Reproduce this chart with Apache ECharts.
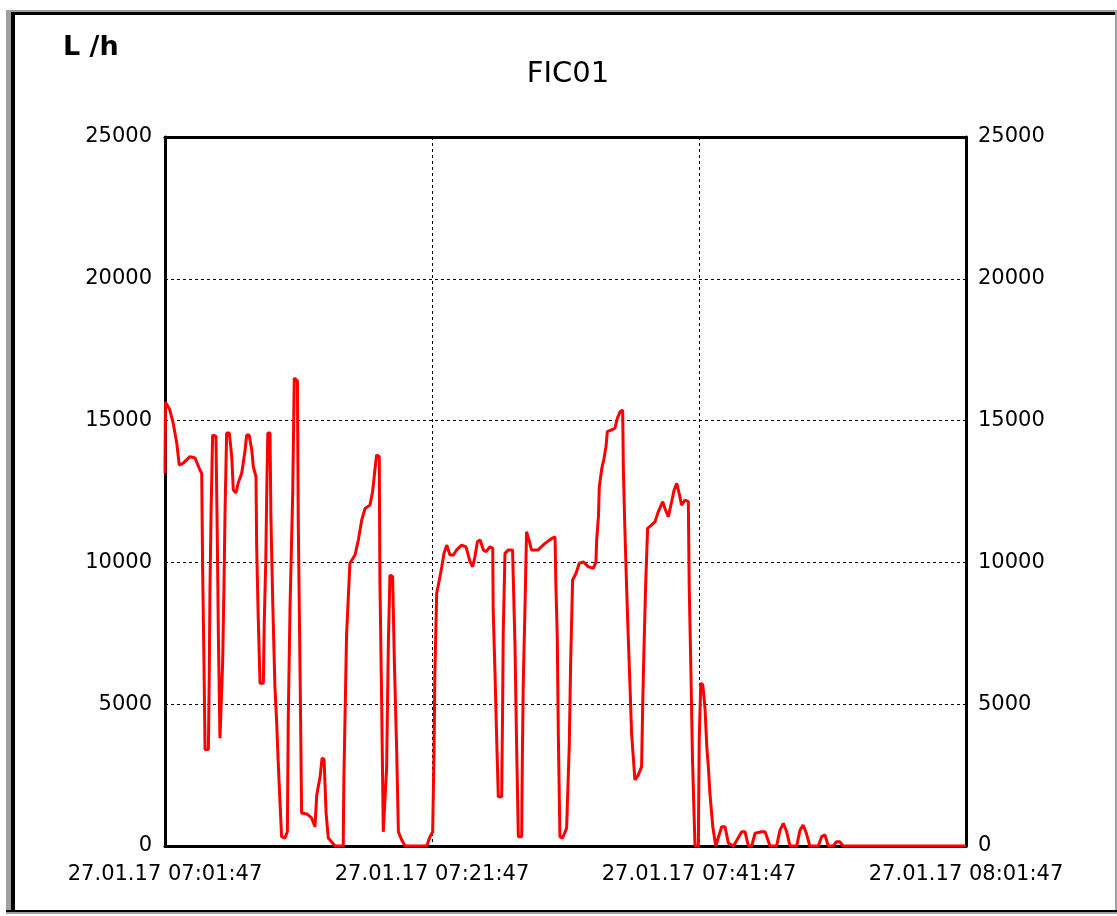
<!DOCTYPE html>
<html>
<head>
<meta charset="utf-8">
<script src="https://cdn.jsdelivr.net/npm/echarts@6/dist/echarts.min.js"></script>
<style>
  html, body { margin: 0; padding: 0; background: #ffffff; }
  #chart { width: 1117px; height: 916px; }
</style>
</head>
<body>
<div id="chart"></div>
<script>
// ---- data ----
const chartTitle = 'FIC01';
const unitLabel = 'L /h';
const startDate = '27.01.17';
const startClock = [7, 1, 47];           // 07:01:47
const xTickSeconds = [0, 1200, 2400, 3600];
const yTicks = [0, 5000, 10000, 15000, 20000, 25000];

// seconds after 07:01:47
const timeSec = [
  0, 2, 9, 22, 37, 53, 64, 82, 112, 135, 157, 165, 169, 175, 180, 195, 199, 202, 207, 214,
  229, 235, 240, 247, 255, 259, 265, 270, 277, 289, 300, 307, 319, 329, 345, 360, 367, 378, 390, 397,
  409, 412, 419, 427, 442, 446, 453, 457, 462, 472, 476, 484, 494, 502, 509, 517, 524, 539, 550, 554,
  562, 574, 581, 595, 599, 607, 614, 637, 659, 674, 682, 697, 706, 715, 724, 734, 754, 764, 801, 804,
  816, 831, 854, 869, 884, 899, 921, 933, 944, 951, 963, 966, 974, 981, 989, 996, 1004, 1011, 1023, 1031,
  1041, 1049, 1064, 1079, 1176, 1191, 1203, 1209, 1213, 1221, 1233, 1244, 1254, 1266, 1281, 1296, 1311, 1333, 1353, 1371,
  1383, 1393, 1404, 1416, 1431, 1443, 1461, 1473, 1475, 1483, 1490, 1498, 1513, 1517, 1520, 1528, 1543, 1562, 1573, 1580,
  1588, 1603, 1606, 1610, 1618, 1625, 1632, 1640, 1647, 1677, 1708, 1738, 1753, 1757, 1763, 1768, 1775, 1787, 1805, 1813,
  1817, 1823, 1832, 1847, 1862, 1880, 1902, 1925, 1937, 1940, 1948, 1952, 1963, 1973, 1982, 1988, 2007, 2022, 2033, 2045,
  2057, 2060, 2067, 2075, 2082, 2090, 2097, 2112, 2127, 2142, 2147, 2153, 2160, 2169, 2187, 2202, 2217, 2237, 2247, 2262,
  2277, 2288, 2300, 2311, 2322, 2337, 2352, 2356, 2364, 2371, 2382, 2397, 2401, 2408, 2417, 2427, 2435, 2442, 2449, 2462,
  2475, 2502, 2517, 2532, 2555, 2592, 2607, 2622, 2637, 2652, 2682, 2697, 2719, 2749, 2764, 2779, 2794, 2809, 2839, 2854,
  2868, 2883, 2898, 2936, 2951, 2966, 2981, 3003, 3018, 3033, 3048, 3600
];
const flowLh = [
  13150, 15650, 15650, 15370, 14900, 14200, 13430, 13500, 13730, 13680, 13260, 13140, 9850, 6560, 3400, 3400, 6100, 8920, 11740, 14490,
  14450, 10900, 7380, 3800, 3800, 6450, 9140, 11850, 14560, 14560, 13730, 12550, 12450, 12800, 13150, 13960, 14490, 14490, 13960, 13370,
  13020, 10550, 8080, 5740, 5740, 7860, 10080, 12320, 14560, 14560, 11610, 8670, 5620, 4340, 2920, 1510, 330, 280, 500, 4510,
  8440, 12450, 16500, 16400, 11390, 6200, 1160, 1130, 990, 680, 1800, 2440, 3100, 3050, 1160, 280, 100, 0, 0, 2400,
  7440, 9970, 10260, 10790, 11490, 11900, 12020, 12490, 13310, 13790, 13730, 9320, 4910, 500, 500, 2740, 7200, 9550, 9500, 6450,
  3440, 500, 210, 0, 0, 330, 500, 3270, 6090, 8910, 9380, 9850, 10320, 10610, 10260, 10260, 10440, 10610, 10550, 10020,
  9850, 10200, 10730, 10790, 10440, 10380, 10550, 10500, 8320, 6150, 3970, 1740, 1740, 4560, 7440, 10320, 10440, 10440, 7090, 3680,
  330, 330, 3030, 5680, 8440, 11080, 11140, 10670, 10440, 10440, 10670, 10840, 10900, 9140, 7380, 3800, 330, 280, 630, 680,
  3560, 6440, 9380, 9610, 9970, 10020, 9850, 9790, 10020, 10790, 11610, 12670, 13310, 13660, 14080, 14610, 14670, 14730, 15080, 15310,
  15370, 13310, 11140, 9030, 7380, 5620, 3970, 2330, 2500, 2800, 4970, 7030, 9140, 11200, 11320, 11430, 11790, 12140, 11900, 11610,
  12140, 12550, 12790, 12430, 12020, 12200, 12140, 9140, 6030, 2970, 0, 0, 3740, 5740, 5680, 4860, 3500, 2800, 1860, 680,
  0, 680, 680, 100, 0, 500, 500, 0, 0, 450, 500, 500, 0, 0, 560, 800, 500, 0, 0, 560,
  740, 440, 0, 0, 330, 390, 0, 0, 150, 150, 0, 0
];

// ---- chart ----
const pad = n => String(n).padStart(2, '0');
function fmtTime(sec) {
  const base = startClock[0] * 3600 + startClock[1] * 60 + startClock[2];
  const t = base + Math.round(sec);
  return startDate + ' ' + pad(Math.floor(t / 3600) % 24) + ':' + pad(Math.floor(t / 60) % 60) + ':' + pad(t % 60);
}

const seriesData = timeSec.map((t, i) => [t, flowLh[i]]);
const FONT = '"DejaVu Sans", sans-serif';
const labelStyle = { color: '#000', fontFamily: FONT, fontSize: 21 };

const chart = echarts.init(document.getElementById('chart'), null, { renderer: 'canvas' });
chart.setOption({
  backgroundColor: '#ffffff',
  animation: false,
  title: {
    text: chartTitle,
    left: 563, top: 55, textAlign: 'center',
    textStyle: { color: '#000', fontFamily: FONT, fontSize: 29, fontWeight: 'normal' }
  },
  graphic: [
    { type: 'rect', shape: { x: 6, y: 10, width: 5, height: 904 }, style: { fill: '#a0a0a0' }, silent: true },
    { type: 'rect', shape: { x: 6, y: 10, width: 1111, height: 2 }, style: { fill: '#a0a0a0' }, silent: true },
    { type: 'rect', shape: { x: 11, y: 12, width: 4, height: 900 }, style: { fill: '#000' }, silent: true },
    { type: 'rect', shape: { x: 11, y: 12, width: 1104, height: 3 }, style: { fill: '#000' }, silent: true },
    { type: 'rect', shape: { x: 1115, y: 12, width: 2, height: 902 }, style: { fill: '#a0a0a0' }, silent: true },
    { type: 'rect', shape: { x: 6, y: 910, width: 1111, height: 2 }, style: { fill: '#000' }, silent: true },
    { type: 'rect', shape: { x: 6, y: 912, width: 1111, height: 2 }, style: { fill: '#a0a0a0' }, silent: true },
    {
      type: 'text', left: 63, top: 34,
      style: { text: unitLabel, fill: '#000', font: 'bold 27px "DejaVu Sans", sans-serif' }
    }
  ],
  grid: { left: 165, top: 137, right: 151, bottom: 70, containLabel: false, outerBoundsMode: 'none' },
  xAxis: [
    {
      type: 'value', position: 'bottom',
      min: xTickSeconds[0], max: xTickSeconds[xTickSeconds.length - 1], interval: xTickSeconds[1] - xTickSeconds[0],
      axisLine: { show: true, onZero: false, lineStyle: { color: '#000', width: 3 } },
      axisTick: { show: false },
      axisLabel: Object.assign({ margin: 18, formatter: v => fmtTime(v), showMinLabel: true, showMaxLabel: true }, labelStyle),
      splitLine: { show: true, lineStyle: { color: '#000', width: 1, type: [3, 3] } }
    },
    {
      type: 'value', position: 'top',
      min: xTickSeconds[0], max: xTickSeconds[xTickSeconds.length - 1], interval: xTickSeconds[1] - xTickSeconds[0],
      axisLine: { show: true, onZero: false, lineStyle: { color: '#000', width: 3 } },
      axisTick: { show: false }, axisLabel: { show: false }, splitLine: { show: false }
    }
  ],
  yAxis: [
    {
      type: 'value', position: 'left',
      min: yTicks[0], max: yTicks[yTicks.length - 1], interval: yTicks[1] - yTicks[0],
      axisLine: { show: true, onZero: false, lineStyle: { color: '#000', width: 3 } },
      axisTick: { show: false },
      axisLabel: Object.assign({ margin: 13, formatter: v => String(v) }, labelStyle),
      splitLine: { show: true, lineStyle: { color: '#000', width: 1, type: [3, 3] } }
    },
    {
      type: 'value', position: 'right',
      min: yTicks[0], max: yTicks[yTicks.length - 1], interval: yTicks[1] - yTicks[0],
      axisLine: { show: true, onZero: false, lineStyle: { color: '#000', width: 3 } },
      axisTick: { show: false },
      axisLabel: Object.assign({ margin: 12, formatter: v => String(v) }, labelStyle),
      splitLine: { show: false }
    }
  ],
  series: [{
    type: 'line',
    xAxisIndex: 0, yAxisIndex: 0,
    data: seriesData,
    showSymbol: false,
    symbol: 'none',
    lineStyle: { color: '#ff0000', width: 3 },
    z: 1
  }]
});
</script>
</body>
</html>
